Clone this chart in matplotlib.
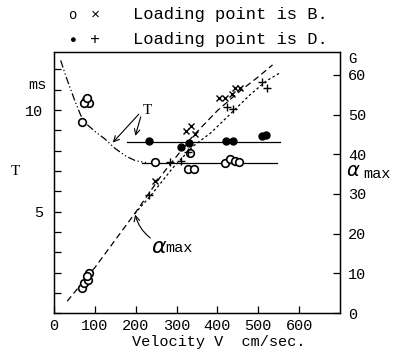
import matplotlib.pyplot as plt
from matplotlib.ticker import MultipleLocator

# T (ms), left axis
t_curve_v = [16, 30, 50, 65, 80, 100, 123, 150, 177, 200, 225]
t_curve_t = [12.45, 11.6, 10.5, 9.75, 9.3, 8.95, 8.6, 8.1, 7.72, 7.5, 7.42]

tb_v = [78, 86, 74, 81, 69, 248, 332, 328, 342, 418, 432, 442, 453]
tb_t = [10.5, 10.35, 10.35, 10.6, 9.4, 7.42, 7.88, 7.09, 7.09, 7.39, 7.58, 7.47, 7.42]
td_v = [233, 310, 330, 420, 437, 508, 518]
td_t = [8.5, 8.2, 8.4, 8.5, 8.5, 8.7, 8.77]

t_level_b = 7.4
t_level_d = 8.45

# alpha max (G), right axis
gb_line_v = [32, 100, 197, 265, 339, 400, 450, 500, 535]
gb_line_g = [3, 11.5, 25, 35, 44.5, 51, 55.5, 59.5, 62.5]
gd_line_v = [197, 240, 290, 340, 385, 430, 480, 520, 553]
gd_line_g = [25, 30, 36.5, 42, 45.5, 50, 55, 58.5, 60.5]

gb_circ_v = [69, 74, 84, 86, 81]
gb_circ_g = [6.25, 7.5, 8.25, 10, 9.25]
gb_x_v = [248, 324, 336, 344, 405, 418, 435, 442, 455]
gb_x_g = [33.25, 45.75, 47.25, 45, 54.25, 54.25, 55.25, 56.75, 56.75]
gd_p_v = [233, 283, 310, 329, 423, 437, 509, 521]
gd_p_g = [29.75, 38, 38.25, 40.5, 52, 51.5, 58.25, 56.75]

mono = ['Liberation Mono', 'DejaVu Sans Mono']
plt.rcParams['font.family'] = mono

fig = plt.figure(figsize=(3.98, 3.53), dpi=100)
ax = fig.add_axes([0.136, 0.113, 0.718, 0.739])
ax2 = ax.twinx()

ax.plot(t_curve_v, t_curve_t, color='black', lw=0.9, linestyle=(0, (6, 2, 1, 2, 1, 2)))
ax.plot([216, 545], [t_level_b, t_level_b], color='black', lw=0.9)
ax.plot([179, 553], [t_level_d, t_level_d], color='black', lw=0.9)
ax.plot(tb_v, tb_t, 'o', mfc='white', mec='black', ms=5.5, mew=1.2)
ax.plot(td_v, td_t, 'o', color='black', ms=5)

ax2.plot(gb_line_v, gb_line_g, color='black', lw=0.9, linestyle=(0, (5, 3)))
ax2.plot(gd_line_v, gd_line_g, color='black', lw=0.9, linestyle=(0, (2, 2)))
ax2.plot(gb_circ_v, gb_circ_g, 'o', mfc='white', mec='black', ms=5.5, mew=1.2)
ax2.plot(gb_x_v, gb_x_g, 'x', color='black', ms=4.5, mew=1)
ax2.plot(gd_p_v, gd_p_g, '+', color='black', ms=6, mew=1)

ax.set_xlim(0, 700)
ax.set_ylim(0, 12.85)
ax2.set_ylim(0, 65.7)

ax.set_xticks([0, 100, 200, 300, 400, 500, 600])
ax.set_yticks([5, 10])
ax.yaxis.set_minor_locator(MultipleLocator(1))
ax2.set_yticks([0, 10, 20, 30, 40, 50, 60])
ax.tick_params(axis='both', which='both', direction='in', length=5, width=0.9, labelsize=11)
ax.tick_params(axis='y', pad=8)
ax.tick_params(axis='x', pad=4)
ax2.tick_params(axis='y', direction='in', length=5, width=0.9, labelsize=11, pad=6)
for a in (ax, ax2):
    for s in a.spines.values():
        s.set_linewidth(0.9)

# T annotation
ax.annotate('', xy=(139, 8.3), xytext=(212, 9.9),
            arrowprops=dict(arrowstyle='->', lw=0.8, color='black'))
ax.annotate('', xy=(197, 8.6), xytext=(214, 9.8),
            arrowprops=dict(arrowstyle='->', lw=0.8, color='black'))
ax.text(216, 10.0, 'T', fontsize=11, family='Liberation Serif', va='center', ha='left')

# alpha max annotation
ax2.annotate('', xy=(197, 25.5), xytext=(241, 18.5),
             arrowprops=dict(arrowstyle='->', lw=0.8, color='black',
                             connectionstyle='arc3,rad=-0.2'))
ax2.text(238, 16.5, r'$\alpha$', fontsize=16, va='center', ha='left')
ax2.text(272, 16.5, 'max', fontsize=11, va='center', ha='left')

# axis labels
fig.text(0.549, 0.031, 'Velocity V  cm/sec.', fontsize=11, ha='center', va='center')
fig.text(0.095, 0.759, 'ms', fontsize=11, ha='center', va='center')
fig.text(0.038, 0.513, 'T', fontsize=11, family='Liberation Serif', ha='center', va='center')
fig.text(0.886, 0.833, 'G', fontsize=10, ha='center', va='center')
fig.text(0.870, 0.513, r'$\alpha$', fontsize=14, ha='left', va='center')
fig.text(0.912, 0.508, 'max', fontsize=11, ha='left', va='center')

# legend text
fig.text(0.181, 0.958, 'o', fontsize=10, ha='center', va='center')
fig.text(0.239, 0.958, '×', fontsize=11, ha='center', va='center')
fig.text(0.334, 0.958, 'Loading point is B.', fontsize=12.3, ha='left', va='center')
fig.text(0.181, 0.887, '●', fontsize=8, ha='center', va='center')
fig.text(0.239, 0.887, '+', fontsize=12, ha='center', va='center')
fig.text(0.334, 0.887, 'Loading point is D.', fontsize=12.3, ha='left', va='center')

fig.savefig('out.png', dpi=100)
